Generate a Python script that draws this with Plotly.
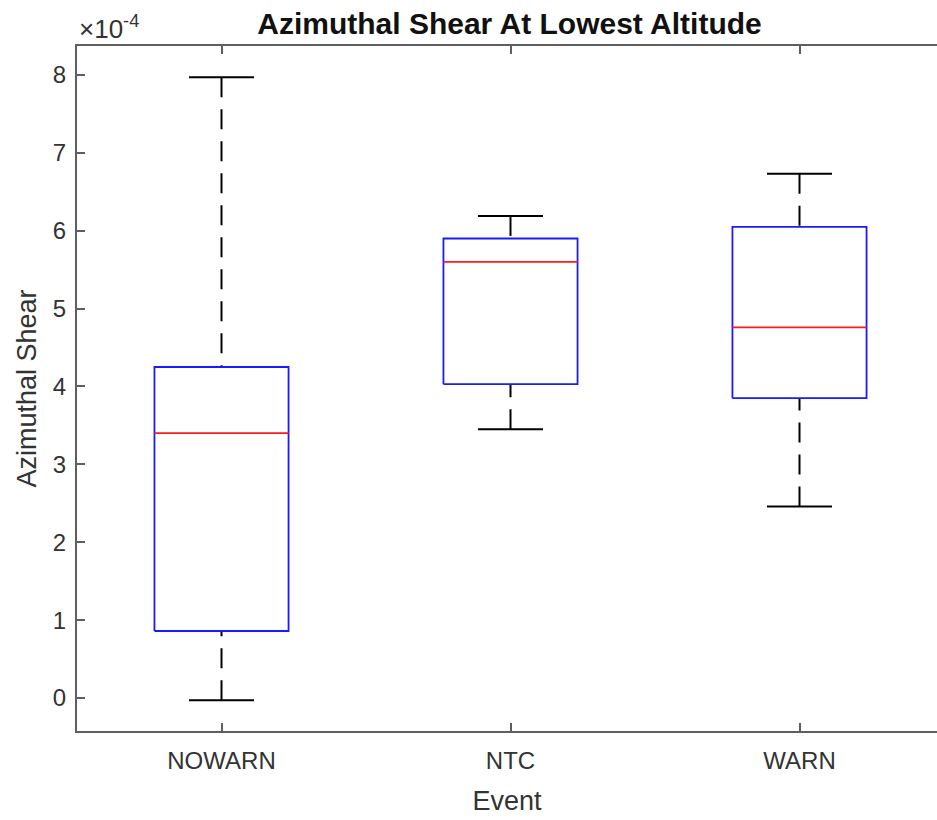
import plotly.graph_objects as go

# ---- data (values in units of s^-1) ----
categories = ["NOWARN", "NTC", "WARN"]
lower_whisker = [-0.03e-4, 3.45e-4, 2.46e-4]
q1 = [0.86e-4, 4.03e-4, 3.85e-4]
median = [3.40e-4, 5.60e-4, 4.76e-4]
q3 = [4.25e-4, 5.90e-4, 6.05e-4]
upper_whisker = [7.97e-4, 6.19e-4, 6.73e-4]
y_tick_values = [0, 1, 2, 3, 4, 5, 6, 7, 8]

# ---- style ----
BOX_HALF = 0.232
CAP_HALF = 0.1125
AXIS_COLOR = "#5f5f5f"
TEXT_COLOR = "#333333"
FONT = "Liberation Sans, Arial, sans-serif"

positions = list(range(1, len(categories) + 1))

box_x, box_y = [], []
med_x, med_y = [], []
wh_x, wh_y = [], []
cap_x, cap_y = [], []
for p, lo, a, m, b, hi in zip(positions, lower_whisker, q1, median, q3, upper_whisker):
    box_x += [p - BOX_HALF, p + BOX_HALF, p + BOX_HALF, p - BOX_HALF, p - BOX_HALF, None]
    box_y += [a, a, b, b, a, None]
    med_x += [p - BOX_HALF, p + BOX_HALF, None]
    med_y += [m, m, None]
    wh_x += [p, p, None, p, p, None]
    wh_y += [hi, b, None, lo, a, None]
    cap_x += [p - CAP_HALF, p + CAP_HALF, None, p - CAP_HALF, p + CAP_HALF, None]
    cap_y += [hi, hi, None, lo, lo, None]

fig = go.Figure()
fig.add_trace(go.Scatter(x=wh_x, y=wh_y, mode="lines",
                         line=dict(color="black", width=2, dash="20px,12px"),
                         hoverinfo="skip", showlegend=False))
fig.add_trace(go.Scatter(x=cap_x, y=cap_y, mode="lines",
                         line=dict(color="black", width=2),
                         hoverinfo="skip", showlegend=False))
fig.add_trace(go.Scatter(x=box_x, y=box_y, mode="lines",
                         line=dict(color="#1a1aff", width=1.8),
                         hoverinfo="skip", showlegend=False))
fig.add_trace(go.Scatter(x=med_x, y=med_y, mode="lines",
                         line=dict(color="#ff1a1a", width=1.8),
                         hoverinfo="skip", showlegend=False))

fig.update_layout(
    width=937, height=820,
    margin=dict(l=77, r=0, t=46, b=89),
    paper_bgcolor="white", plot_bgcolor="white",
    font=dict(family=FONT, color=TEXT_COLOR, size=24),
    title=dict(text="<b>Azimuthal Shear At Lowest Altitude</b>",
               x=(77 + 942) / 2 / 937, xanchor="center",
               y=1 - 23 / 820, yanchor="middle",
               font=dict(size=30, color="#111111", family=FONT)),
    showlegend=False,
)
fig.update_xaxes(
    range=[0.5, 0.5 + 860 / 289.0],
    tickmode="array", tickvals=positions, ticktext=categories,
    ticks="inside", ticklen=8, tickwidth=1.5, tickcolor=AXIS_COLOR,
    showline=True, linecolor=AXIS_COLOR, linewidth=2, mirror="ticks",
    showgrid=False, zeroline=False, ticklabelstandoff=7,
    tickfont=dict(size=24, color=TEXT_COLOR),
    title=dict(text="Event", font=dict(size=27, color=TEXT_COLOR), standoff=18),
)
fig.update_yaxes(
    range=[-0.424e-4, 8.372e-4],
    tickmode="array", tickvals=[v * 1e-4 for v in y_tick_values],
    ticktext=[str(v) for v in y_tick_values],
    ticks="inside", ticklen=8, tickwidth=1.5, tickcolor=AXIS_COLOR,
    showline=True, linecolor=AXIS_COLOR, linewidth=2, mirror=False,
    showgrid=False, zeroline=False, ticklabelstandoff=4,
    tickfont=dict(size=24, color=TEXT_COLOR),
    title=dict(text="Azimuthal Shear", font=dict(size=27, color=TEXT_COLOR), standoff=8),
)
fig.add_annotation(text="×10<sup>-4</sup>", xref="paper", yref="paper",
                   x=0, y=1, xanchor="left", yanchor="bottom", yshift=0,
                   showarrow=False, font=dict(size=26, color=TEXT_COLOR, family=FONT))

fig.write_html("out.html")
